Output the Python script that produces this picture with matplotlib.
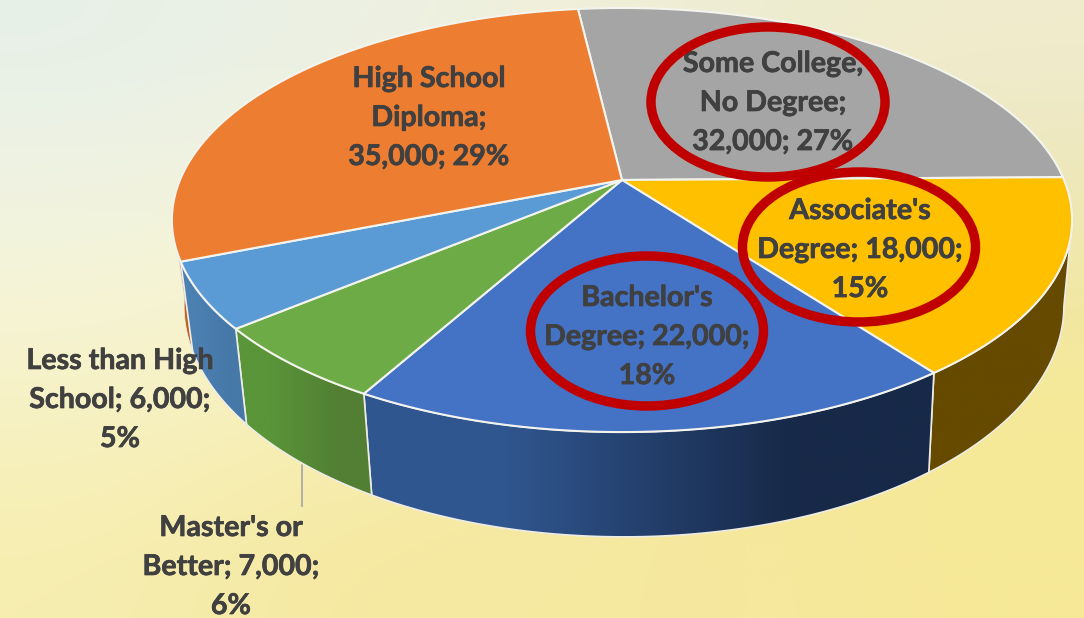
import numpy as np
import matplotlib
matplotlib.use("Agg")
import matplotlib.pyplot as plt
import matplotlib.patheffects as pe
from matplotlib.patches import Polygon, Ellipse

plt.rcParams['font.family'] = ['Lato', 'DejaVu Sans']

# ========== DATA ==========
categories = ['Some College', "Associate's", "Bachelor's", "Master's", 'Less than HS', 'High School']
values = [32000, 18000, 22000, 7000, 6000, 35000]
labels = ['Some College,\nNo Degree;\n32,000; 27%',
          "Associate's\nDegree; 18,000;\n15%",
          "Bachelor's\nDegree; 22,000;\n18%",
          "Master's or\nBetter; 7,000;\n6%",
          'Less than High\nSchool; 6,000;\n5%',
          'High School\nDiploma;\n35,000; 29%']
label_pos = [(773, 103), (860, 250), (647, 337), (231, 567), (120, 400), (429, 118)]
top_colors = ['#A5A5A5', '#FFC000', '#4472C4', '#6DAB46', '#5B9BD5', '#ED7D31']
wall_left = ['#636363', '#654A00', '#30568F', '#5A9539', '#4C80B2', '#C0601C']
wall_right = ['#636363', '#654A00', '#172948', '#527F34', '#4678A8', '#C0601C']
circled = [(768, 102, 234, 150), (859, 247, 233, 150), (647, 331, 233, 150)]

# paper background, coarse colour grid
paper = np.array([
    [[231, 240, 232], [236, 241, 228], [240, 240, 222], [238, 236, 208], [240, 236, 205]],
    [[240, 243, 226], [244, 243, 218], [243, 238, 200], [243, 236, 196], [236, 230, 185]],
    [[246, 244, 214], [247, 243, 205], [246, 238, 182], [246, 236, 170], [243, 232, 160]],
    [[247, 241, 192], [247, 238, 178], [246, 234, 165], [246, 232, 155], [246, 232, 150]],
    [[246, 238, 176], [245, 232, 160], [246, 232, 160], [246, 233, 158], [246, 233, 150]],
], dtype=float) / 255

# perspective of the pie disc: (cx, cy, rx, ry)
TOP = (622, 180, 442, 204.5)
BOTTOM = (624, 262, 432, 223)
TILT = 0.1887
START = 96.8
WALL_FROM = -11
WALL_TO = -171


def project(theta, ring):
    cx, cy, rx, ry = ring
    t = np.radians(theta)
    w = 1 + TILT * np.sin(t)
    return np.column_stack([cx + rx * np.cos(t) / w, cy - ry * np.sin(t) / w])


fig = plt.figure(figsize=(10.84, 6.18), dpi=100)
ax = fig.add_axes([0, 0, 1, 1])
ax.set_xlim(0, 1084)
ax.set_ylim(618, 0)
ax.axis('off')
ax.imshow(paper, extent=(0, 1084, 618, 0), interpolation='bicubic', aspect='auto', zorder=0)

# slice angles, clockwise from the start angle
sweep = np.array(values) / sum(values) * 360
ends = START - np.cumsum(sweep)
starts = ends + sweep

# side walls, High School sliver first so the blue wall sits on top of it
for i in [5, 1, 2, 3, 4]:
    a = min(starts[i], WALL_FROM)
    b = max(ends[i], WALL_TO)
    if i == 5:
        a, b = ends[4], WALL_TO
    th = np.linspace(a, b, 80)
    pts = np.vstack([project(th, TOP), project(th[::-1], BOTTOM)])
    poly = Polygon(pts, closed=True, facecolor='none', edgecolor='none')
    ax.add_patch(poly)
    grad = np.array([matplotlib.colors.to_rgb(wall_left[i]), matplotlib.colors.to_rgb(wall_right[i])])[None, :, :]
    im = ax.imshow(grad, extent=(pts[:, 0].min(), pts[:, 0].max(), pts[:, 1].max(), pts[:, 1].min()),
                   interpolation='bilinear', aspect='auto', zorder=2)
    im.set_clip_path(poly)
    lw = 0.6 if i == 5 else 1.2
    ax.add_patch(Polygon(pts, closed=True, facecolor='none', edgecolor='#EDEDE6', linewidth=lw, zorder=2))

ax.set_xlim(0, 1084)
ax.set_ylim(618, 0)

# top faces
for i in range(len(values)):
    th = np.linspace(starts[i], ends[i], 160)
    pts = np.vstack([[TOP[0], TOP[1]], project(th, TOP)])
    ax.add_patch(Polygon(pts, closed=True, facecolor=top_colors[i], edgecolor='#F4F4EE',
                         linewidth=1.5, joinstyle='round', zorder=4))

# leader line of the Master's label
ax.plot([302, 302], [465, 506], color='#A6A6A6', linewidth=1.2, zorder=1)

for text, (x, y) in zip(labels, label_pos):
    ax.text(x, y, text, ha='center', va='center', fontsize=20.6, fontweight='bold',
            color='#404040', linespacing=1.62, zorder=5,
            path_effects=[pe.withStroke(linewidth=0.5, foreground='#404040')])

for (x, y, w, h) in circled:
    ax.add_patch(Ellipse((x, y), w, h, facecolor='none', edgecolor='#C00000', linewidth=6.8, zorder=6))

fig.savefig('out.png', dpi=100)
plt.close(fig)
